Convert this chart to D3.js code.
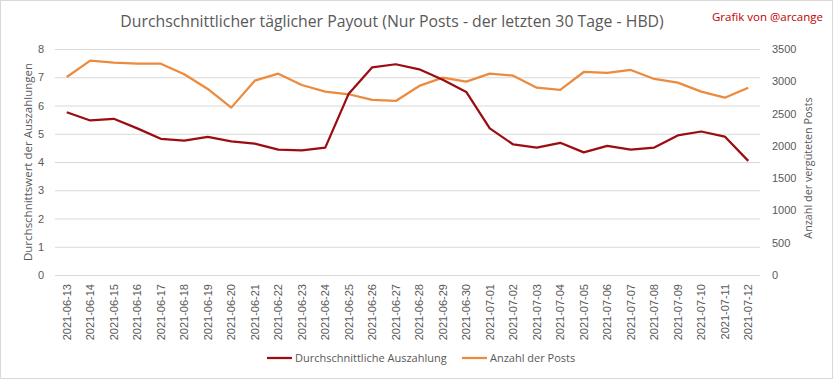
<!DOCTYPE html>
<html>
<head>
<meta charset="utf-8">
<script src="https://cdn.jsdelivr.net/npm/d3@7"></script>
<style>
  body { margin: 0; background: #fff; }
  svg { display: block; font-family: "Open Sans", sans-serif; }
</style>
</head>
<body>
<svg id="chart" width="833" height="379"></svg>
<script>
const dates = [
  '2021-06-13', '2021-06-14', '2021-06-15', '2021-06-16', '2021-06-17', '2021-06-18',
  '2021-06-19', '2021-06-20', '2021-06-21', '2021-06-22', '2021-06-23', '2021-06-24',
  '2021-06-25', '2021-06-26', '2021-06-27', '2021-06-28', '2021-06-29', '2021-06-30',
  '2021-07-01', '2021-07-02', '2021-07-03', '2021-07-04', '2021-07-05', '2021-07-06',
  '2021-07-07', '2021-07-08', '2021-07-09', '2021-07-10', '2021-07-11', '2021-07-12'
];

// Durchschnittliche Auszahlung (left axis)
const payout = [
  5.76, 5.47, 5.53, 5.19, 4.82, 4.76, 4.89, 4.73, 4.65, 4.44, 4.41, 4.51,
  6.42, 7.35, 7.46, 7.28, 6.91, 6.48, 5.19, 4.62, 4.51, 4.68, 4.34, 4.57,
  4.44, 4.51, 4.94, 5.08, 4.90, 4.04
];

// Anzahl der Posts (right axis)
const posts = [
  3067, 3320, 3289, 3273, 3273, 3109, 2881, 2592, 3010, 3118, 2943, 2840,
  2799, 2711, 2695, 2928, 3056, 2995, 3118, 3087, 2901, 2866, 3144, 3129,
  3175, 3036, 2979, 2840, 2746, 2901
];

const leftTicks = [0, 1, 2, 3, 4, 5, 6, 7, 8];
const rightTicks = [0, 500, 1000, 1500, 2000, 2500, 3000, 3500];

const seriesNames = ['Durchschnittliche Auszahlung', 'Anzahl der Posts'];
const seriesColors = ['#9b0d10', '#ec8a3e'];

const width = 833, height = 379;
const margin = { top: 49, right: 73, bottom: 104, left: 55 };
const svg = d3.select('#chart');
const textColor = '#595959';

// outer frame
svg.append('rect')
  .attr('x', 0.5).attr('y', 0.5)
  .attr('width', width - 1).attr('height', height - 1)
  .attr('fill', '#fff').attr('stroke', '#d9d9d9');

const x = d3.scaleBand()
  .domain(dates)
  .range([margin.left, width - margin.right]);

const yLeft = d3.scaleLinear()
  .domain([0, 8])
  .range([height - margin.bottom, margin.top]);

const yRight = d3.scaleLinear()
  .domain([0, 3500])
  .range([height - margin.bottom, margin.top]);

const cx = d => x(d) + x.bandwidth() / 2;

// gridlines
svg.append('g')
  .selectAll('line')
  .data(leftTicks)
  .join('line')
  .attr('x1', margin.left).attr('x2', width - margin.right)
  .attr('y1', d => yLeft(d) + 0.5).attr('y2', d => yLeft(d) + 0.5)
  .attr('stroke', '#d9d9d9').attr('stroke-width', 1);

// left axis
const gl = svg.append('g')
  .attr('transform', `translate(${margin.left},0)`)
  .call(d3.axisLeft(yLeft).tickValues(leftTicks).tickSize(0).tickPadding(11));
gl.select('.domain').remove();
gl.selectAll('text').attr('fill', textColor).style('font-size', '11px');

// right axis
const gr = svg.append('g')
  .attr('transform', `translate(${width - margin.right},0)`)
  .call(d3.axisRight(yRight).tickValues(rightTicks).tickFormat(d3.format('d')).tickSize(0).tickPadding(12));
gr.select('.domain').remove();
gr.selectAll('text').attr('fill', textColor).style('font-size', '11px');

// x axis
const gx = svg.append('g')
  .attr('transform', `translate(0,${height - margin.bottom})`)
  .call(d3.axisBottom(x).tickSize(0));
gx.select('.domain').remove();
gx.selectAll('text')
  .attr('fill', textColor)
  .style('font-size', '11px')
  .attr('text-anchor', 'end')
  .attr('transform', 'rotate(-90)')
  .attr('x', -9)
  .attr('y', 0)
  .attr('dy', '0.35em');

// lines
const linePayout = d3.line()
  .x((d, i) => cx(dates[i]))
  .y(d => yLeft(d));

const linePosts = d3.line()
  .x((d, i) => cx(dates[i]))
  .y(d => yRight(d));

svg.append('path')
  .datum(posts)
  .attr('fill', 'none')
  .attr('stroke', seriesColors[1])
  .attr('stroke-width', 2.25)
  .attr('stroke-linejoin', 'round')
  .attr('d', linePosts);

svg.append('path')
  .datum(payout)
  .attr('fill', 'none')
  .attr('stroke', seriesColors[0])
  .attr('stroke-width', 2.25)
  .attr('stroke-linejoin', 'round')
  .attr('d', linePayout);

// title
svg.append('text')
  .attr('x', 392).attr('y', 27)
  .attr('text-anchor', 'middle')
  .attr('fill', textColor)
  .style('font-size', '15.8px')
  .text('Durchschnittlicher täglicher Payout (Nur Posts - der letzten 30 Tage - HBD)');

svg.append('text')
  .attr('x', 823).attr('y', 21)
  .attr('text-anchor', 'end')
  .attr('fill', '#c00000')
  .style('font-size', '11.5px')
  .text('Grafik von @arcange');

// axis titles
svg.append('text')
  .attr('transform', `translate(32,${(margin.top + height - margin.bottom) / 2}) rotate(-90)`)
  .attr('text-anchor', 'middle')
  .attr('fill', textColor)
  .style('font-size', '11.5px')
  .text('Durchschnittswert der Auszahlungen');

svg.append('text')
  .attr('transform', `translate(812,${(margin.top + height - margin.bottom) / 2 + 6}) rotate(-90)`)
  .attr('text-anchor', 'middle')
  .attr('fill', textColor)
  .style('font-size', '10.8px')
  .text('Anzahl der vergüteten  Posts');

// legend
const legend = svg.append('g').attr('transform', 'translate(267,358)');
const legendX = [0, 195];
seriesNames.forEach((name, i) => {
  const g = legend.append('g').attr('transform', `translate(${legendX[i]},0)`);
  g.append('line')
    .attr('x1', 0).attr('x2', 25)
    .attr('stroke', seriesColors[i]).attr('stroke-width', 2.25);
  g.append('text')
    .attr('x', 28).attr('dy', '0.35em')
    .attr('fill', textColor)
    .style('font-size', '11px')
    .text(name);
});
</script>
</body>
</html>
